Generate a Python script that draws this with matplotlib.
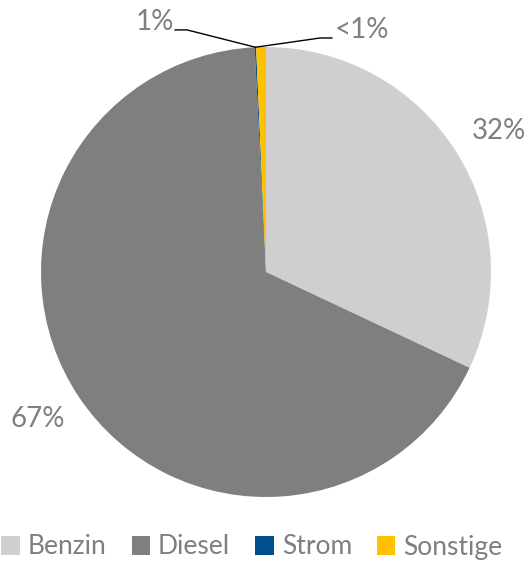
import numpy as np
import matplotlib.pyplot as plt

# Kraftstoffarten (Anteile in %)
categories = ["Benzin", "Diesel", "Strom", "Sonstige"]
shares = [32.0, 67.2, 0.1, 0.7]
pct_labels = ["32%", "67%", "<1%", "1%"]
colors = ["#d0cece", "#7f7f7f", "#004f8b", "#ffc000"]

plt.rcParams["font.family"] = ["Lato", "DejaVu Sans"]
text_color = "#7f7f7f"

fig = plt.figure(figsize=(5.27, 5.65), dpi=100)
ax = fig.add_axes([41 / 527, 68 / 565, 450 / 527, 450 / 565])

wedges, _ = ax.pie(shares, colors=colors, startangle=90, counterclock=False,
                   radius=1.0, wedgeprops=dict(linewidth=0))
ax.set_xlim(-1, 1)
ax.set_ylim(-1, 1)
ax.axis("off")

# große Segmente: Beschriftung außerhalb auf der Winkelhalbierenden
for w, lab, dist, (dx, dy) in zip(wedges[:2], pct_labels[:2], [1.19, 1.21],
                                  [(0.03, -0.01), (-0.01, 0.02)]):
    mid = np.deg2rad((w.theta1 + w.theta2) / 2)
    ax.text(dist * np.cos(mid) + dx, dist * np.sin(mid) + dy, lab,
            ha="center", va="center", fontsize=20, color=text_color)

# kleine Segmente: Beschriftung mit Führungslinie
anchor = np.deg2rad((wedges[2].theta1 + wedges[2].theta2) / 2)
ax_, ay_ = np.cos(anchor), np.sin(anchor)
ax.plot([-0.404, -0.351, ax_], [1.076, 1.076, ay_], color="black", lw=1, clip_on=False)
ax.plot([0.293, 0.24, ax_], [1.04, 1.04, ay_], color="black", lw=1, clip_on=False)
ax.text(-0.41, 1.112, pct_labels[3], ha="right", va="center", fontsize=20, color=text_color)
ax.text(0.305, 1.075, pct_labels[2], ha="left", va="center", fontsize=20, color=text_color)

fig.legend(wedges, categories, loc="center", bbox_to_anchor=(252 / 527, 1 - 547 / 565),
           ncol=4, frameon=False, fontsize=19, labelcolor=text_color,
           handlelength=0.7, handleheight=0.7, handletextpad=0.3,
           columnspacing=0.95, borderaxespad=0)

fig.savefig("out.png", dpi=100)
